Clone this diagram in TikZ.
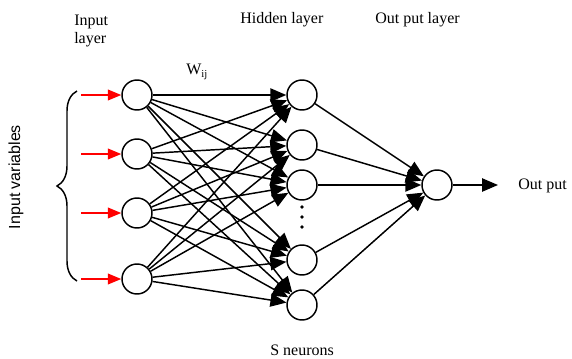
\documentclass[tikz,border=0pt]{standalone}
\usepackage{fontspec}
\setmainfont{Liberation Serif}
\newfontfamily\lsans{Liberation Sans}
\usetikzlibrary{arrows.meta,decorations.pathreplacing}
\begin{document}
\begin{tikzpicture}[x=0.75pt,y=-0.75pt,
  neuron/.style={circle,draw,line width=1.1pt,minimum size=22.5pt,inner sep=0pt},
  conn/.style={line width=1.1pt,-{Triangle[length=12pt,width=10pt]}},
  inarrow/.style={red,line width=1.1pt,-{Triangle[length=10pt,width=8pt]}},
  lbl/.style={font=\fontsize{12}{14}\selectfont,inner sep=0pt}]
\useasboundingbox (0,0) rectangle (572,358);
% input nodes
\foreach \i/\y in {1/95,2/154,3/213,4/279}{
  \node[neuron] (i\i) at (137,\y) {};
  \coordinate (s\i) at (81,\y);
  \draw[inarrow] (s\i) -- (i\i);
}
% hidden nodes
\foreach \j/\y in {1/95,2/145,3/185,4/260,5/305}{
  \node[neuron] (h\j) at (302,\y) {};
}
\node[neuron] (o) at (437,185) {};
\foreach \i in {1,...,4}{
  \foreach \j in {1,...,5}{
    \draw[conn] (i\i) -- (h\j);
  }
}
\foreach \j in {1,...,5}{
  \draw[conn] (h\j) -- (o);
}
\coordinate (oe) at (498,185);
\draw[conn] (o) -- (oe);
% dots
\foreach \k/\y in {1/207,2/217,3/227}{
  \fill (302,\y) circle (1.9);
}
% brace
\coordinate (b1) at (77,281);
\coordinate (b2) at (77,91);
\draw[line width=1.1pt,decorate,decoration={brace,amplitude=15pt}] (b1) -- (b2);
\node[lbl,rotate=90,font=\lsans\fontsize{12}{14}\selectfont] (iv) at (16,177) {Input variables};
% labels
\node[lbl,align=left,anchor=west] (il) at (74,31) {Input\\layer};
\node[lbl,anchor=west] (hl) at (240,20) {Hidden layer};
\node[lbl,anchor=west] (ol) at (375,20) {Out put layer};
\node[lbl,anchor=west] (w) at (186,72) {W\textsubscript{ij}};
\node[lbl,anchor=west] (op) at (518,186) {Out put};
\node[lbl,anchor=west] (sn) at (270,350) {S neurons};
\end{tikzpicture}
\end{document}
